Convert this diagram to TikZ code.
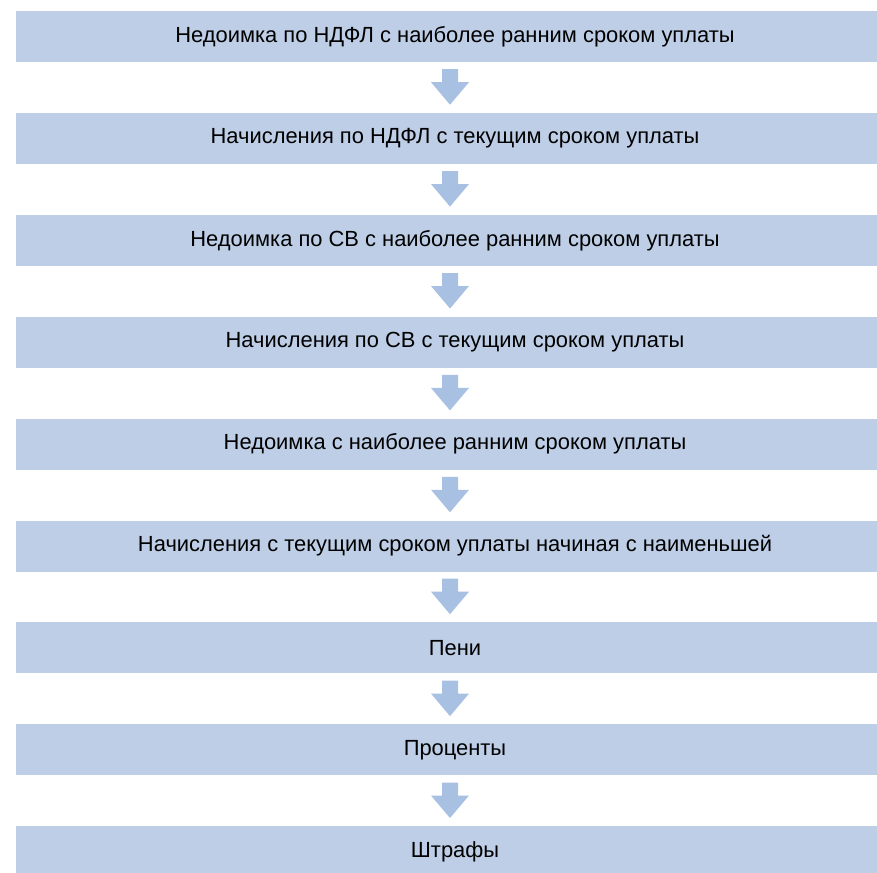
\documentclass[tikz,border=0pt]{standalone}
\usepackage{fontspec}
\setmainfont{Liberation Sans}
\usetikzlibrary{calc}

\definecolor{boxblue}{RGB}{189,206,230}
\definecolor{arrowblue}{RGB}{168,192,226}

\begin{document}
\begin{tikzpicture}[x=1pt,y=-1pt,
    stepbox/.style={fill=boxblue, draw=none, minimum width=878pt, minimum height=51pt,
      inner sep=0pt, font=\fontsize{21.9}{25}\selectfont},
    flowarrow/.style={fill=arrowblue, draw=none}]
            \clip (0,0) rectangle (877,872);
            \fill[white] (0,0) rectangle (877,872);
            % Blocks
            \node[stepbox] (b1) at (455,36.5) {Недоимка по НДФЛ с наиболее ранним сроком уплаты};
            \node[stepbox] (b2) at (455,138.4) {Начисления по НДФЛ с текущим сроком уплаты};
            \node[stepbox] (b3) at (455,240.3) {Недоимка по СВ с наиболее ранним сроком уплаты};
            \node[stepbox] (b4) at (455,342.2) {Начисления по СВ с текущим сроком уплаты};
            \node[stepbox] (b5) at (455,444.1) {Недоимка с наиболее ранним сроком уплаты};
            \node[stepbox] (b6) at (455,546.0) {Начисления с текущим сроком уплаты начиная с наименьшей};
            \node[stepbox] (b7) at (455,647.9) {Пени};
            \node[stepbox] (b8) at (455,749.8) {Проценты};
            \node[stepbox] (b9) at (455,851.7) {Штрафы};

            % Arrows
            \foreach \a/\b in {b1/b2,b2/b3,b3/b4,b4/b5,b5/b6,b6/b7,b7/b8,b8/b9}
              \fill[flowarrow] ($(\a.south)+(-13,7)$) -- ($(\a.south)+(3,7)$) -- ($(\a.south)+(3,20)$)
                -- ($(\a.south)+(14,20)$) -- ($(\b.north)+(-5,-8)$) -- ($(\a.south)+(-24,20)$)
                -- ($(\a.south)+(-13,20)$) -- cycle;
          \end{tikzpicture}
\end{document}
